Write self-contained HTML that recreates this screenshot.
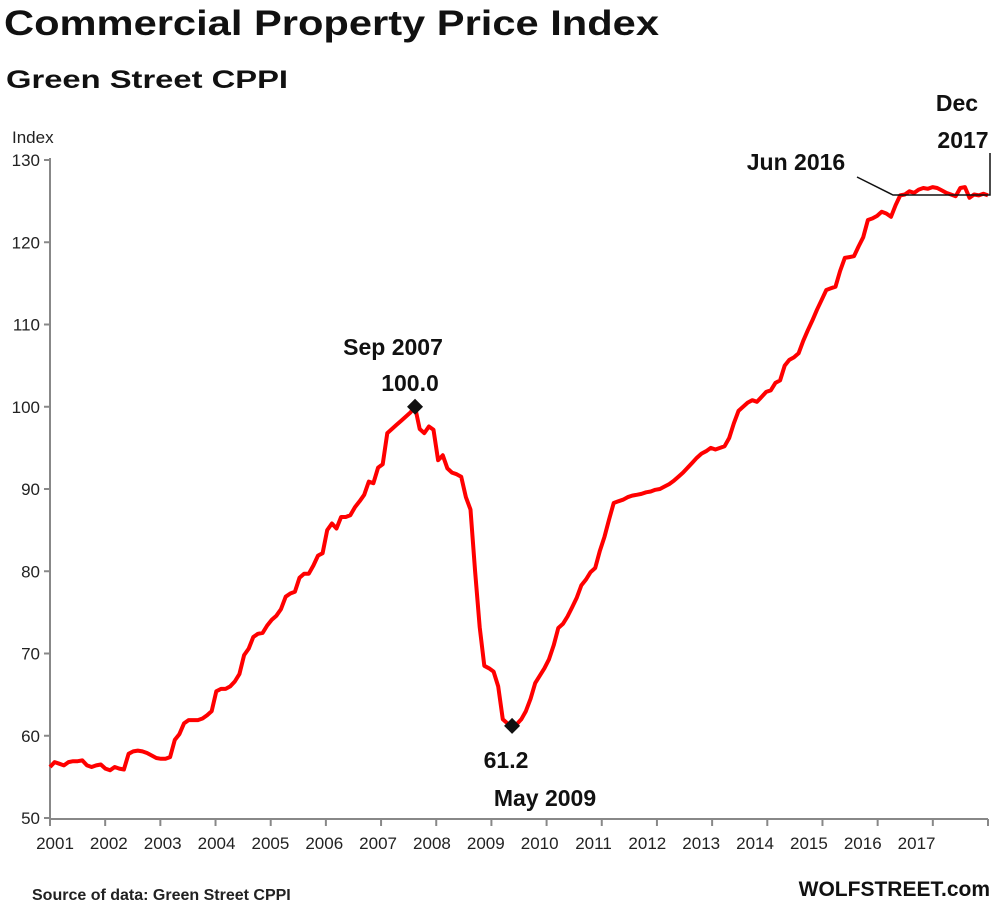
<!DOCTYPE html>
<html><head><meta charset="utf-8"><style>
body{margin:0;background:#fff;}
svg text{font-family:"Liberation Sans",sans-serif;}
</style></head><body>
<svg id="chart" width="996" height="912" viewBox="0 0 996 912" xmlns="http://www.w3.org/2000/svg">
<text x="4" y="35" font-size="35" font-weight="bold" fill="#111" textLength="655" lengthAdjust="spacingAndGlyphs">Commercial Property Price Index</text>
<text x="6" y="88" font-size="25" font-weight="bold" fill="#111" textLength="282" lengthAdjust="spacingAndGlyphs">Green Street CPPI</text>
<text x="12" y="143" font-size="17" fill="#222">Index</text>
<g id="axes"></g>
<g id="series"></g>
<g id="annotations"></g>
<text x="32" y="900" font-size="16" font-weight="bold" fill="#222">Source of data: Green Street CPPI</text>
<text x="990" y="896" font-size="21" font-weight="bold" fill="#111" text-anchor="end">WOLFSTREET.com</text>
</svg>
<script>
const years = ["2001","2002","2003","2004","2005","2006","2007","2008","2009","2010","2011","2012","2013","2014","2015","2016","2017"];
const yTicks = [50,60,70,80,90,100,110,120,130];
const v2001 = [56.2,56.8,56.6,56.4,56.8,56.9,56.9,57.0,56.4,56.2,56.4,56.5];
const v2002 = [56.0,55.8,56.2,56.0,55.9,57.8,58.1,58.2,58.1,57.9,57.6,57.3];
const v2003 = [57.2,57.2,57.4,59.5,60.2,61.5,61.9,61.9,61.9,62.1,62.5,63.0];
const v2004 = [65.4,65.7,65.7,66.0,66.6,67.5,69.8,70.6,72.0,72.4,72.5,73.4];
const v2005 = [74.1,74.6,75.4,76.9,77.3,77.5,79.2,79.7,79.7,80.7,81.9,82.2];
const v2006 = [85.0,85.8,85.2,86.6,86.6,86.8,87.8,88.5,89.3,90.9,90.7,92.6];
const v2007 = [93.0,96.8,97.3,97.8,98.3,98.8,99.3,100.0,97.3,96.8,97.6,97.2];
const v2008 = [93.5,94.1,92.5,92.0,91.8,91.5,89.0,87.5,80.0,73.2,68.5,68.2];
const v2009 = [67.8,66.0,62.0,61.5,61.2,61.4,62.0,63.0,64.5,66.4,67.3,68.2];
const v2010 = [69.3,71.0,73.1,73.6,74.5,75.6,76.8,78.3,79.0,79.9,80.4,82.5];
const v2011 = [84.2,86.3,88.3,88.5,88.7,89.0,89.2,89.3,89.4,89.6,89.7,89.9];
const v2012 = [90.0,90.3,90.6,91.0,91.5,92.0,92.6,93.2,93.8,94.3,94.6,95.0];
const v2013 = [94.8,95.0,95.2,96.2,98.0,99.5,100.0,100.5,100.8,100.6,101.2,101.8];
const v2014 = [102.0,102.9,103.2,105.0,105.7,106.0,106.5,108.0,109.3,110.5,111.8,113.0];
const v2015 = [114.2,114.4,114.6,116.5,118.1,118.2,118.3,119.5,120.6,122.7,122.9,123.2];
const v2016 = [123.7,123.5,123.1,124.5,125.7,125.8,126.2,126.0,126.4,126.6,126.5,126.7];
const v2017 = [126.6,126.3,126.0,125.8,125.6,126.6,126.7,125.4,125.8,125.7,125.9,125.7];
const values = [].concat(v2001,v2002,v2003,v2004,v2005,v2006,v2007,v2008,v2009,v2010,v2011,v2012,v2013,v2014,v2015,v2016,v2017);

const NS="http://www.w3.org/2000/svg";
const X0=50,X1=988,Y0=818,Y1=160,YMIN=50,YMAX=130;
const xMonth=i=>X0+(X1-X0)*i/(values.length-1);
const xYear=k=>X0+(X1-X0)*k/years.length;
const yv=v=>Y0-(v-YMIN)/(YMAX-YMIN)*(Y0-Y1);
function mk(tag,attrs,parent){const e=document.createElementNS(NS,tag);for(const k in attrs)e.setAttribute(k,attrs[k]);parent.appendChild(e);return e;}
const axes=document.getElementById('axes');
const yAxis=mk('line',{x1:X0,y1:Y1-2,x2:X0,y2:Y0+1,stroke:'#888','stroke-width':2},axes);


const xAxis=mk('line',{x1:X0,y1:Y0+1,x2:X1,y2:Y0+1,stroke:'#888','stroke-width':2},axes);


yTicks.forEach(t=>{
  const tk=mk('line',{x1:X0-6,y1:yv(t),x2:X0,y2:yv(t),stroke:'#888','stroke-width':2},axes);
  
  
  const lb=mk('text',{x:X0-10,y:yv(t)+6,'font-size':17,'text-anchor':'end',fill:'#222'},axes);
  lb.textContent=t;
  
  
});
for(let k=0;k<=years.length;k++){
  const tk=mk('line',{x1:xYear(k),y1:Y0+1,x2:xYear(k),y2:Y0+8,stroke:'#888','stroke-width':2},axes);
  
  
}
years.forEach((yr,k)=>{
  const lb=mk('text',{x:55+k*53.85,y:849,'font-size':17,'text-anchor':'middle',fill:'#222'},axes);
  lb.textContent=yr;
  
  
});
const series=document.getElementById('series');
const line=mk('polyline',{points:values.map((v,i)=>xMonth(i).toFixed(1)+','+yv(v).toFixed(1)).join(' '),fill:'none',stroke:'#f00','stroke-width':4,'stroke-linejoin':'round'},series);


// markers at pre-crisis peak and crisis trough
let iMax=60,iMin=90;
for(let i=60;i<96;i++){if(values[i]>values[iMax])iMax=i;}
for(let i=90;i<120;i++){if(values[i]<values[iMin])iMin=i;}
const ann=document.getElementById('annotations');
[iMax,iMin].forEach((i,n)=>{
  const x=xMonth(i),y=yv(values[i]);
  const d=mk('path',{d:`M${x} ${y-8}L${x+8} ${y}L${x} ${y+8}L${x-8} ${y}Z`,fill:'#111'},ann);
  
  
});
function label(txt,x,y,name,anchor){const t=mk('text',{x:x,y:y,'font-size':23,'font-weight':'bold','text-anchor':anchor||'middle',fill:'#111'},ann);t.textContent=txt;}
label('Sep 2007',393,355,'peak-date-label');
label(values[iMax].toFixed(1),410,391,'peak-value-label');
label(values[iMin].toFixed(1),506,768,'trough-value-label');
label('May 2009',545,806,'trough-date-label');
label('Jun 2016',796,170,'jun-2016-label');
label('Dec',957,111,'dec-label');
label('2017',963,148,'dec-2017-label');
const ref=mk('polyline',{points:`857,177 893,195 990,195 990,153`,fill:'none',stroke:'#111','stroke-width':1.5},ann);


</script>
</body></html>
